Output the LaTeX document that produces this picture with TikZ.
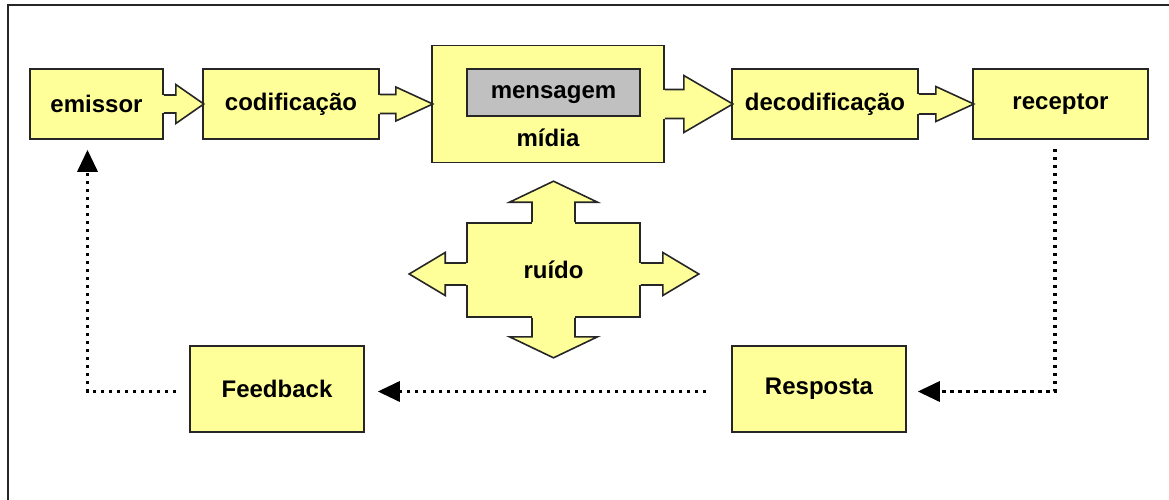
\documentclass[tikz,border=0pt]{standalone}
\usepackage{fontspec}
\setmainfont{Liberation Sans}
\usepackage{tikz}
\usetikzlibrary{arrows.meta}
\usepackage{xcolor}
\definecolor{boxyellow}{HTML}{FFFF99}
\definecolor{msggray}{HTML}{C0C0C0}
% start, angle, shaft length, head length, shaft half width, head half width
\newcommand{\blockarrow}[6]{%
  \fill[boxyellow, shift={(#1)}, rotate=#2] (-1.5,-#5) rectangle (#3,#5);
  \filldraw[blockarrow, shift={(#1)}, rotate=#2]
    (0,#5) -- (#3,#5) -- (#3,#6) -- ({#3+#4},0) -- (#3,-#6) -- (#3,-#5) -- (0,-#5);}

\begin{document}
\begin{tikzpicture}[x=0.5pt, y=-0.5pt,
  boxtext/.style={font=\fontsize{12}{14}\selectfont\bfseries},
  box/.style={boxtext, draw=black!85, line width=0.8pt, fill=boxyellow, inner sep=0pt},
  blockarrow/.style={draw=black!85, line width=0.8pt, fill=boxyellow, line join=miter},
  feedline/.style={line width=1.7pt, dash pattern=on 1.7pt off 2.3pt, -{Triangle[length=11pt,width=10pt]}},
  frameline/.style={draw=black!85, line width=1pt}]
\useasboundingbox (0,0) rectangle (1169,499);
\draw[frameline] (8,520) -- (8,5) -- (1190,5);

\node[box, minimum width=66.5pt, minimum height=35pt] (emissor) at (96.5,104) {emissor};
\node[box, minimum width=88pt, minimum height=35pt, right of=emissor, node distance=97.25pt] (codificacao) {codificação};
\node[box, minimum width=116pt, minimum height=58.5pt, right of=codificacao, node distance=128.5pt] (midia) {};
\node[boxtext, below of=midia, node distance=17pt] (midialabel) {mídia};
\node[box, fill=msggray, minimum width=86.5pt, minimum height=23.5pt, text depth=0pt, above of=midia, node distance=5.75pt, xshift=2.75pt] (mensagem) {mensagem};
\node[box, minimum width=93pt, minimum height=35pt, right of=midia, node distance=138.5pt] (decodificacao) {decodificação};
\node[box, minimum width=87.5pt, minimum height=35pt, right of=decodificacao, node distance=117.75pt] (receptor) {receptor};
\node[box, minimum width=86.5pt, minimum height=47pt, below of=midia, node distance=83pt, xshift=2.75pt] (ruido) {ruído};
\node[box, minimum width=87pt, minimum height=43pt, below of=codificacao, node distance=142.5pt, xshift=-7pt] (feedback) {Feedback};
\node[box, minimum width=87pt, minimum height=43pt, right of=feedback, node distance=271pt] (resposta) {Resposta};

\blockarrow{emissor.east}{0}{12}{28}{9}{19.5}
\blockarrow{codificacao.east}{0}{16}{37}{9.5}{17}
\blockarrow{midia.east}{0}{19}{49}{14.5}{28.5}
\blockarrow{decodificacao.east}{0}{17}{38}{10}{17.5}
\blockarrow{ruido.north}{90}{20}{21}{21.5}{44}
\blockarrow{ruido.south}{-90}{19}{21}{21.5}{44}
\blockarrow{[yshift=-2pt]ruido.west}{180}{21}{36}{11}{21.5}
\blockarrow{[yshift=-2pt]ruido.east}{0}{22}{36}{11}{21.5}

\draw[feedline] ([xshift=-2.75pt, yshift=-4.5pt]receptor.south) |- ([xshift=5.5pt, yshift=-1.25pt]resposta.east);
\draw[feedline] ([xshift=-12.5pt, yshift=-1.25pt]resposta.west) -- ([xshift=6.5pt, yshift=-1.25pt]feedback.east);
\draw[feedline] ([xshift=-6.5pt, yshift=-1.25pt]feedback.west) -| ([xshift=-4.5pt, yshift=-5pt]emissor.south);
\end{tikzpicture}
\end{document}
